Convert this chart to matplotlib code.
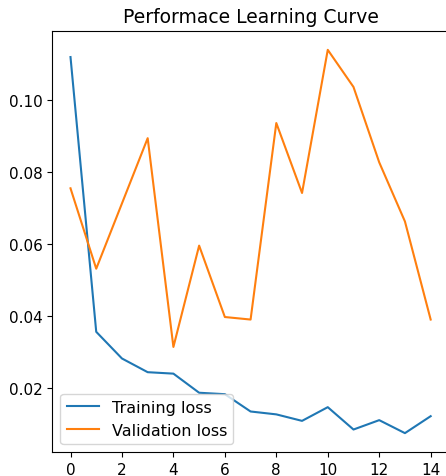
import matplotlib
matplotlib.use("Agg")
import matplotlib.pyplot as plt

epochs = list(range(15))
train_loss = [0.1118, 0.0356, 0.0282, 0.0244, 0.0240, 0.0187, 0.0183, 0.0135,
              0.0127, 0.0109, 0.0147, 0.0085, 0.0111, 0.0075, 0.0122]
val_loss = [0.0754, 0.0531, 0.0712, 0.0893, 0.0314, 0.0595, 0.0397, 0.0390,
            0.0935, 0.0741, 0.1138, 0.1035, 0.0826, 0.0662, 0.0390]


def main():
    fig = plt.figure(figsize=(4.46, 4.77), dpi=100)
    ax = fig.add_axes([0.1177, 0.0497, 0.8883, 0.8839])

    ax.plot(epochs, train_loss, label="Training loss")
    ax.plot(epochs, val_loss, label="Validation loss")
    ax.set_title("Performace Learning Curve", fontsize=13.5)
    ax.set_xticks(range(0, 15, 2))
    ax.set_yticks([0.02, 0.04, 0.06, 0.08, 0.10])
    ax.tick_params(labelsize=11)
    ax.legend(loc="lower left", fontsize=11.5)

    fig.savefig("out.png", dpi=100)


if __name__ == "__main__":
    main()
